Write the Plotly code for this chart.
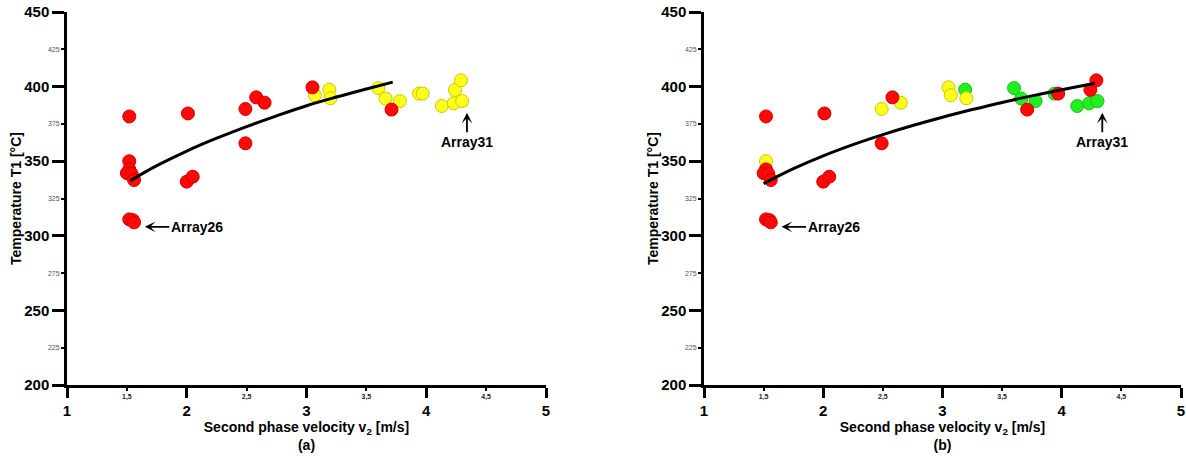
import plotly.graph_objects as go

# ---- data ----
v2 = [1.52, 2.01, 2.49, 2.58, 2.65, 3.05, 3.07, 3.19, 3.20, 3.60, 3.66, 3.78, 3.71,
      3.94, 3.97, 4.13, 4.23, 4.30, 4.24, 4.29, 2.49, 1.52, 1.52, 1.50, 1.54, 1.56,
      2.00, 2.05, 1.52, 1.55, 1.56]
T1 = [380, 382, 385, 392.8, 389.2, 399.5, 394.2, 398, 392.2, 399, 392, 390.3, 384.6,
      395.3, 395.3, 387, 388.8, 390.3, 397.8, 404.2, 362, 350, 344.5, 342, 341.5, 337.4,
      336.3, 339.6, 311, 310.5, 309]
class_a = list("RRRRRRYYYYYYRYYYYYYYRRRRRRRRRRR")
class_b = list("RRYRYYYGYGGGRGRGGGRRRYRRRRRRRRR")

fit_a_x = [1.53, 1.75, 2.0, 2.25, 2.5, 2.75, 3.0, 3.25, 3.5, 3.72]
fit_a_y = [337.0, 347.0, 356.8, 365.4, 373.2, 380.4, 387.2, 393.0, 398.4, 403.0]
fit_b_x = [1.50, 1.75, 2.0, 2.25, 2.5, 2.75, 3.0, 3.25, 3.5, 3.75, 4.0, 4.28]
fit_b_y = [335.0, 345.0, 353.6, 361.1, 367.8, 373.9, 379.5, 384.6, 389.4, 393.8, 397.9, 402.3]

major_x = [1, 2, 3, 4, 5]
minor_x = [1.5, 2.5, 3.5, 4.5]
minor_x_text = ["1,5", "2,5", "3,5", "4,5"]
major_y = [200, 250, 300, 350, 400, 450]
minor_y = [225, 275, 325, 375, 425]

labels = {"a": "(a)", "b": "(b)"}

# ---- styling ----
FONT = "Liberation Sans, Arial, sans-serif"
colors = {"G": ("#22ee22", "#18c018"), "Y": ("#ffff1e", "#c8c800"), "R": ("#ff0808", "#d40000")}

fig = go.Figure()

def add_panel(xa, ya, cls, fx, fy):
    for c in ["G", "Y", "R"]:
        xs = [x for x, k in zip(v2, cls) if k == c]
        ys = [y for y, k in zip(T1, cls) if k == c]
        if not xs:
            continue
        fig.add_trace(go.Scatter(x=xs, y=ys, mode="markers", xaxis=xa, yaxis=ya,
                                 marker=dict(size=13, color=colors[c][0],
                                             line=dict(width=1, color=colors[c][1])),
                                 showlegend=False, hoverinfo="skip"))
    fig.add_trace(go.Scatter(x=fx, y=fy, mode="lines", xaxis=xa, yaxis=ya,
                             line=dict(color="black", width=3, shape="spline"),
                             showlegend=False, hoverinfo="skip"))

add_panel("x", "y", class_a, fit_a_x, fit_a_y)
add_panel("x2", "y2", class_b, fit_b_x, fit_b_y)
# empty traces for minor label overlay axes
for xa, ya in [("x3", "y3"), ("x4", "y4")]:
    fig.add_trace(go.Scatter(x=[], y=[], xaxis=xa, yaxis=ya, showlegend=False))

W, H = 1186, 456
ML, MT = 67, 12
MR = W - 1181
MB = H - 385
PW = W - ML - MR
dom_left = [0, (546 - 67) / PW]
dom_right = [(704 - 67) / PW, 1.0]
dom_y = [0, 1]

def major_x_axis(domain, anchor, lab):
    return dict(domain=domain, anchor=anchor, range=[1, 5], tickvals=major_x,
                ticks="outside", ticklen=10, tickwidth=2.5, tickcolor="black",
                showline=True, linewidth=2.5, linecolor="black", showgrid=False,
                zeroline=False, automargin=False, ticklabeloverflow="allow",
                tickfont=dict(family=FONT, size=15, color="black", weight="bold"),
                title=dict(text="Second phase velocity v<sub>2</sub> [m/s]<br>" + lab,
                           font=dict(family=FONT, size=14, color="black", weight="bold"),
                           standoff=2))

def major_y_axis(anchor, domain=dom_y):
    return dict(domain=domain, anchor=anchor, range=[200, 450], tickvals=major_y,
                ticks="outside", ticklen=12, tickwidth=2.5, tickcolor="black",
                showline=True, linewidth=2.5, linecolor="black", showgrid=False,
                zeroline=False, automargin=False, ticklabeloverflow="allow",
                tickfont=dict(family=FONT, size=15, color="black", weight="bold"),
                title=dict(text="Temperature T1 [°C]",
                           font=dict(family=FONT, size=14, color="black", weight="bold"),
                           standoff=0))

def minor_x_axis(over, anchor):
    return dict(overlaying=over, anchor=anchor, side="bottom", range=[1, 5],
                tickvals=minor_x, ticktext=minor_x_text, ticks="outside", ticklen=5,
                tickwidth=2, tickcolor="black", showline=False, showgrid=False,
                zeroline=False, automargin=False,
                tickfont=dict(family=FONT, size=7, color="#222", weight="bold"))

def minor_y_axis(over, anchor):
    return dict(overlaying=over, anchor=anchor, side="left", range=[200, 450],
                tickvals=minor_y, ticks="outside", ticklen=5, tickwidth=2,
                tickcolor="black", showline=False, showgrid=False, zeroline=False,
                automargin=False, tickfont=dict(family=FONT, size=7, color="#555"))

fig.update_layout(
    width=W, height=H,
    margin=dict(l=ML, r=MR, t=MT, b=MB),
    paper_bgcolor="white", plot_bgcolor="white",
    xaxis=major_x_axis(dom_left, "y", labels["a"]),
    yaxis=major_y_axis("x"),
    xaxis2=major_x_axis(dom_right, "y2", labels["b"]),
    yaxis2=major_y_axis("x2"),
    xaxis3=minor_x_axis("x", "y"),
    yaxis3=minor_y_axis("y", "x"),
    xaxis4=minor_x_axis("x2", "y2"),
    yaxis4=minor_y_axis("y2", "x2"),
)

ann_font = dict(family=FONT, size=14, color="black", weight="bold")
for xr, yr in [("x", "y"), ("x2", "y2")]:
    fig.add_annotation(x=1.65, y=306, xref=xr, yref=yr, text="Array26", ax=52, ay=0,
                       showarrow=True, arrowhead=3, arrowsize=1, arrowwidth=1.8,
                       arrowcolor="black", font=ann_font, standoff=0)
    fig.add_annotation(x=4.34, y=382.5, xref=xr, yref=yr, text="Array31", ax=0, ay=29,
                       showarrow=True, arrowhead=3, arrowsize=1, arrowwidth=1.8,
                       arrowcolor="black", font=ann_font, standoff=0)

# remove the default 8px page margin so the figure fills the window exactly
fig.write_html("out.html", config={"displayModeBar": False},
               post_script="document.body.style.margin='0';")
